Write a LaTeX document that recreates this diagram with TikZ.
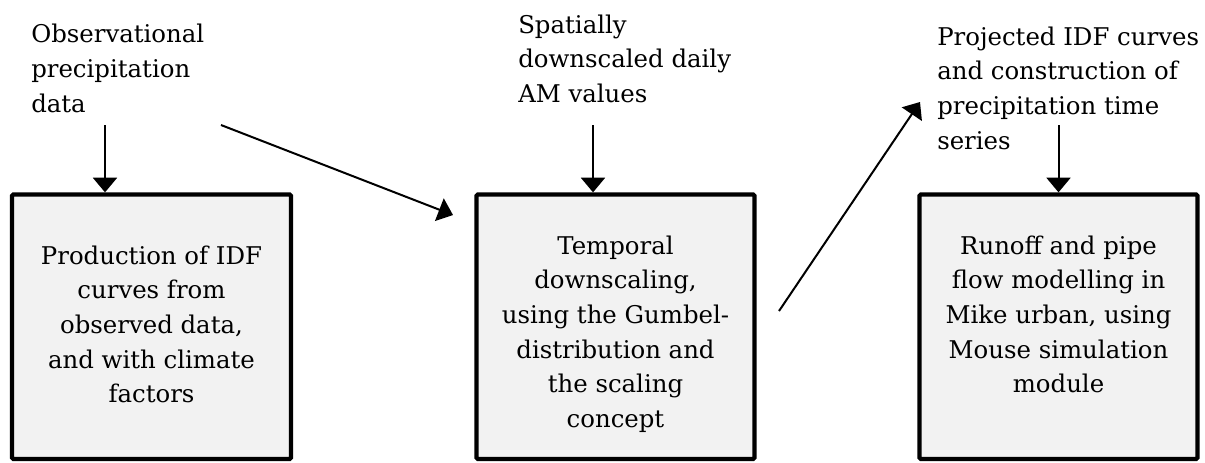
\documentclass[tikz,border=0pt]{standalone}
\usepackage{fontspec}
\setmainfont{DejaVu Serif}
\usetikzlibrary{arrows.meta}
\definecolor{boxfill}{HTML}{F2F2F2}
\begin{document}
\begin{tikzpicture}[x=0.75pt,y=-0.75pt,
  stepbox/.style={draw=black,line width=3.2pt,fill=boxfill,inner sep=0pt,rounded corners=1pt},
  boxtext/.style={align=center,inner sep=0pt,anchor=north,font=\fontsize{18.3pt}{26pt}\selectfont},
  toplabel/.style={align=left,inner sep=0pt,anchor=north west,font=\fontsize{18.3pt}{26pt}\selectfont},
  flow/.style={line width=1.5pt,-{Triangle[width=18pt,length=11pt]}}]
\useasboundingbox (0,0) rectangle (1205,462);
% boxes
\node[stepbox,minimum width=209.25pt,minimum height=198.4pt] (b1) at (151.5,326.75) {};
\node[stepbox,minimum width=208.5pt,minimum height=198.4pt] (b2) at (615.5,326.75) {};
\node[stepbox,minimum width=208.5pt,minimum height=198.4pt] (b3) at (1058.5,326.75) {};
% box texts
\node[boxtext] (t1) at (151.5,245.5) {Production of IDF\\curves from\\observed data,\\and with climate\\factors};
\node[boxtext] (t2) at (615.5,235.5) {Temporal\\downscaling,\\using the Gumbel-\\distribution and\\the scaling\\concept};
\node[boxtext] (t3) at (1058.5,235.5) {Runoff and pipe\\flow modelling in\\Mike urban, using\\Mouse simulation\\module};
% top labels
\node[toplabel] (l1) at (31,24) {Observational\\precipitation\\data};
\node[toplabel] (l2) at (518,14.5) {Spatially\\downscaled daily\\AM values};
\node[toplabel] (l3) at (937,26.5) {Projected IDF curves\\and construction of\\precipitation time\\series};
% connector endpoints
\coordinate (a1) at (105,125);
\coordinate (a2) at (593,125);
\coordinate (a3) at (1058.5,125);
\coordinate (d1s) at (221,125);
\coordinate (d1e) at (453,215);
\coordinate (d2s) at (779,311);
\coordinate (d2e) at (920,102);
% connectors
\draw[flow] (a1) -- (a1 |- b1.north);
\draw[flow] (a2) -- (a2 |- b2.north);
\draw[flow] (a3) -- (a3 |- b3.north);
\draw[flow] (d1s) -- (d1e);
\draw[flow] (d2s) -- (d2e);
\end{tikzpicture}
\end{document}
